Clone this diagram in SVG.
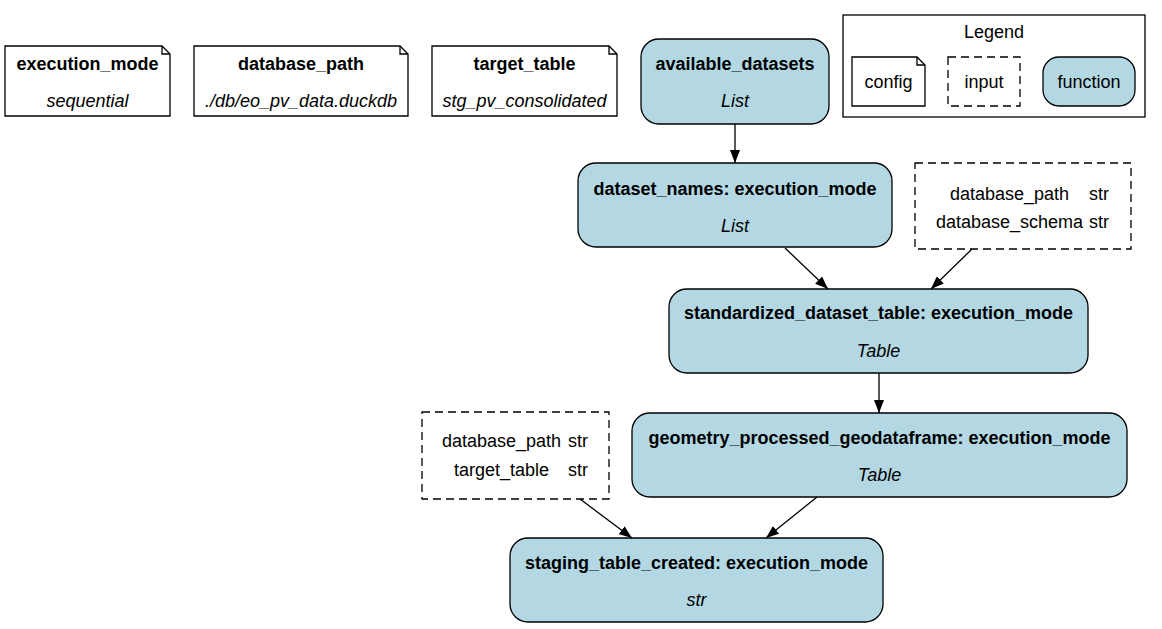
<svg xmlns="http://www.w3.org/2000/svg" width="1162" height="629" viewBox="0 0 1162 629">
  <defs>
    <marker id="arrow" viewBox="0 0 13 10" refX="13" refY="5" markerWidth="13" markerHeight="10" markerUnits="userSpaceOnUse" orient="auto">
      <path d="M0,0 L13,5 L0,10 Z" fill="#000"/>
    </marker>
  </defs>
  <style>
    text { font-family: "Liberation Sans", Arial, Helvetica, sans-serif; font-size: 18px; fill: #000; }
    .b { font-weight: bold; }
    .i { font-style: italic; }
    .m { text-anchor: middle; }
    .note { fill: #fff; stroke: #000; stroke-width: 1.3; }
    .fold { fill: none; stroke: #000; stroke-width: 1.3; }
    .input { fill: #fff; stroke: #000; stroke-width: 1.3; stroke-dasharray: 8 5; }
    .func { fill: #b3d8e4; stroke: #000; stroke-width: 1.3; }
    .edge { fill: none; stroke: #000; stroke-width: 1.3; marker-end: url(#arrow); }
  </style>
  <rect width="1162" height="629" fill="#fff"/>

  <!-- config notes -->
  <g id="execution_mode">
    <path class="note" d="M5,46 H162 L170,54 V116 H5 Z"/>
    <path class="fold" d="M162,46 V54 H170"/>
    <text class="b m" x="87.5" y="69.5">execution_mode</text>
    <text class="i m" x="87.5" y="106.5">sequential</text>
  </g>
  <g id="database_path">
    <path class="note" d="M194,46 H400 L408,54 V116 H194 Z"/>
    <path class="fold" d="M400,46 V54 H408"/>
    <text class="b m" x="301" y="69.5">database_path</text>
    <text class="i m" x="301" y="106.5">./db/eo_pv_data.duckdb</text>
  </g>
  <g id="target_table">
    <path class="note" d="M432,46 H609 L617,54 V116 H432 Z"/>
    <path class="fold" d="M609,46 V54 H617"/>
    <text class="b m" x="524.5" y="69.5">target_table</text>
    <text class="i m" x="524.5" y="106.5">stg_pv_consolidated</text>
  </g>

  <!-- functions -->
  <g id="available_datasets">
    <rect class="func" x="641" y="39" width="188" height="85" rx="18"/>
    <text class="b m" x="735" y="69.5">available_datasets</text>
    <text class="i m" x="735" y="106.5">List</text>
  </g>
  <g id="dataset_names">
    <rect class="func" x="578" y="163" width="314" height="84" rx="18"/>
    <text class="b m" x="735" y="194.5">dataset_names: execution_mode</text>
    <text class="i m" x="735" y="231.5">List</text>
  </g>
  <g id="standardized_dataset_table">
    <rect class="func" x="669" y="289" width="419" height="84" rx="18"/>
    <text class="b m" x="878.5" y="318.5">standardized_dataset_table: execution_mode</text>
    <text class="i m" x="878.5" y="356.5">Table</text>
  </g>
  <g id="geometry_processed_geodataframe">
    <rect class="func" x="632" y="413" width="495" height="84" rx="18"/>
    <text class="b m" x="879.5" y="443.5">geometry_processed_geodataframe: execution_mode</text>
    <text class="i m" x="879.5" y="480.5">Table</text>
  </g>
  <g id="staging_table_created">
    <rect class="func" x="510" y="538" width="373" height="84" rx="18"/>
    <text class="b m" x="696.5" y="568.5">staging_table_created: execution_mode</text>
    <text class="i m" x="696.5" y="605.5">str</text>
  </g>

  <!-- inputs -->
  <g id="standardized_dataset_table_inputs">
    <rect class="input" x="915" y="163" width="216" height="86"/>
    <text class="m" x="1009.5" y="199.5">database_path</text>
    <text x="1089" y="199.5">str</text>
    <text class="m" x="1009.5" y="227.5">database_schema</text>
    <text x="1089" y="227.5">str</text>
  </g>
  <g id="staging_table_created_inputs">
    <rect class="input" x="422" y="412" width="187" height="87"/>
    <text class="m" x="501.5" y="446.5">database_path</text>
    <text x="568" y="446.5">str</text>
    <text class="m" x="501.5" y="475.5">target_table</text>
    <text x="568" y="475.5">str</text>
  </g>

  <!-- connectors -->
  <g id="edges">
    <path class="edge" d="M735,124 L735,163"/>
    <path class="edge" d="M785,248 L828,289"/>
    <path class="edge" d="M972,249 L931,289"/>
    <path class="edge" d="M879,373 L879,413"/>
    <path class="edge" d="M580,499 L632,538"/>
    <path class="edge" d="M817,497 L766,538"/>
  </g>

  <!-- legend -->
  <g id="legend">
    <rect x="843" y="15" width="302" height="102" fill="#fff" stroke="#000" stroke-width="1.3"/>
    <text class="m" x="994" y="38">Legend</text>
    <path class="note" d="M852,57 H917 L925,65 V106 H852 Z"/>
    <path class="fold" d="M917,57 V65 H925"/>
    <text class="m" x="888.5" y="88">config</text>
    <rect class="input" x="948" y="57" width="72" height="49"/>
    <text class="m" x="984" y="88">input</text>
    <rect class="func" x="1043" y="57" width="92" height="49" rx="16"/>
    <text class="m" x="1089" y="88">function</text>
  </g>
</svg>
